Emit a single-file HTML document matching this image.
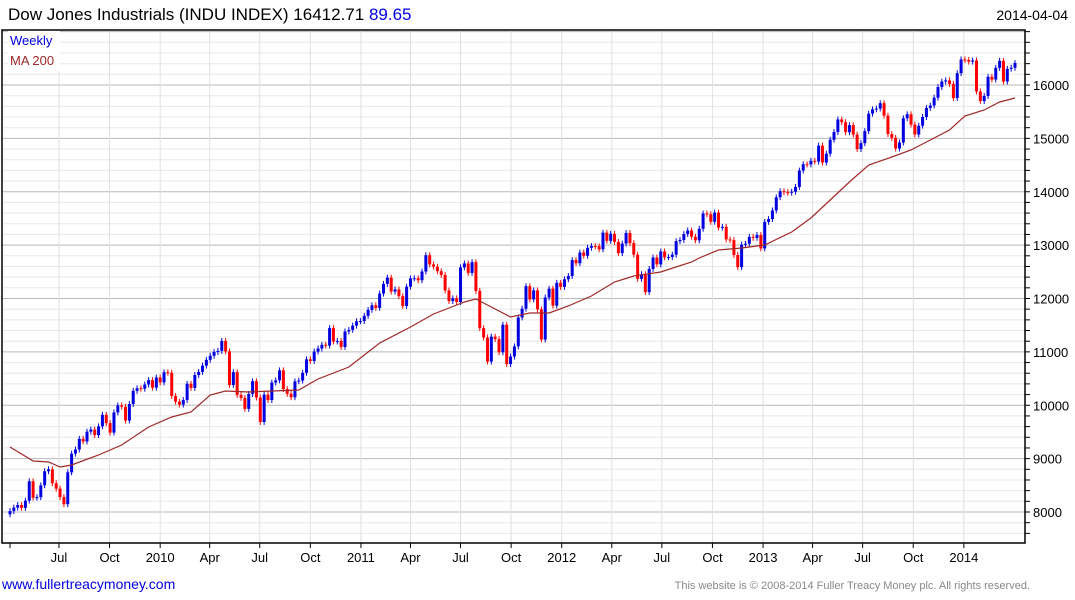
<!DOCTYPE html>
<html><head><meta charset="utf-8"><style>
body{margin:0;background:#fff;width:1075px;height:600px;overflow:hidden;font-family:"Liberation Sans",sans-serif}
svg{display:block}
</style></head><body>
<svg id="c" width="1075" height="600">
<text x="8" y="20" font-size="17" fill="#000">Dow Jones Industrials (INDU INDEX) 16412.71 <tspan fill="#0000e0">89.65</tspan></text>
<text x="1068" y="20" font-size="14" text-anchor="end" fill="#000">2014-04-04</text>
<g id="grid"></g>
<g id="marks"></g>
<polyline id="ma" fill="none" stroke="#a02828" stroke-width="1.2"/>
<rect x="8" y="31" width="52" height="40" fill="#fff"/>
<text x="10" y="45" font-size="13" fill="#0000e0">Weekly</text>
<text x="10" y="65" font-size="13" fill="#a02828">MA 200</text>
<g id="axes"></g>
<text x="2" y="589" font-size="14" fill="#0000e0">www.fullertreacymoney.com</text>
<text x="1030" y="589" font-size="11" text-anchor="end" fill="#888">This website is © 2008-2014 Fuller Treacy Money plc. All rights reserved.</text>
</svg>
<script>
const closes=[8017,8083,8131,8076,8212,8575,8268,8277,8500,8764,8799,8539,8438,8280,8146,8743,9093,9171,9370,9321,9505,9544,9441,9605,9820,9665,9487,9865,9996,9972,9713,10023,10270,10318,10310,10388,10471,10329,10520,10428,
10618,10610,10173,10067,10012,10099,10403,10325,10567,10625,10742,10851,10927,10997,11019,11205,11009,10380,10620,10193,10137,9932,10212,10450,10144,9686,10198,10098,10425,10466,10654,10303,10214,10150,10448,10462,10608,10861,10829,11006,11063,11133,11118,11445,11193,11204,11092,11382,11411,11492,11573,11578,
11675,11787,11872,11824,12092,12273,12391,12130,12170,12044,11859,12221,12377,12380,12342,12506,12811,12638,12596,12512,12441,12151,11952,12004,11934,12583,12657,12480,12681,12143,11445,11269,10818,11285,11240,10992,11509,10771,10913,11103,11644,11809,12231,11983,12153,11796,11231,12019,12184,11866,12294,12218,
12360,12422,12720,12660,12862,12801,12950,12983,12978,12922,13233,13081,13212,13060,12850,13029,13228,13038,12821,12369,12455,12119,12554,12767,12640,12880,12772,12777,12822,13075,13096,13207,13275,13157,13090,13306,13593,13579,13437,13610,13328,13343,13107,13093,12815,12588,13010,13025,13155,13135,13190,12938,
13435,13488,13650,13896,14009,13993,13982,14001,14090,14397,14515,14512,14579,14565,14865,14547,14712,14974,15118,15354,15303,15116,15248,15071,14800,14910,15136,15464,15544,15559,15659,15426,15081,15010,14810,14922,15376,15452,15258,15073,15237,15400,15570,15615,15762,15962,16065,16086,16020,15755,16221,16479,16470,
16437,16459,15879,15699,15794,16154,16103,16322,16453,16066,16303,16323,16412];
// MA 200 readings: week index and value
const maWeek=[0,6,10,13,16,23,29,36,42,47,52,56,62,68,75,80,88,96,104,110,114,118,121,125,130,135,140,145,151,157,162,169,177,179,184,190,196,203,208,213,218,223,229,234,239,244,248,253,257,261];
const maVals=[9218,8955,8937,8843,8881,9068,9255,9593,9780,9874,10192,10267,10248,10267,10286,10492,10717,11166,11466,11710,11822,11934,11991,11841,11653,11728,11728,11859,12047,12309,12422,12496,12684,12759,12909,12946,13002,13246,13508,13845,14183,14501,14651,14782,14970,15157,15419,15532,15682,15756];
const yTicks=[8000,9000,10000,11000,12000,13000,14000,15000,16000];
const xTickLabels=["Jul","Oct","2010","Apr","Jul","Oct","2011","Apr","Jul","Oct","2012","Apr","Jul","Oct","2013","Apr","Jul","Oct","2014"];
const xTickDates=["2009-07-01","2009-10-01","2010-01-01","2010-04-01","2010-07-01","2010-10-01","2011-01-01","2011-04-01","2011-07-01","2011-10-01","2012-01-01","2012-04-01","2012-07-01","2012-10-01","2013-01-01","2013-04-01","2013-07-01","2013-10-01","2014-01-01"];
const startDate=Date.UTC(2009,3,3);
const NS="http://www.w3.org/2000/svg";
const L=2,R=1025,T=30,B=543;
const step=1005/261;
function y(v){return 512-(v-8000)*0.053375;}
function xi(i){return 10+i*step;}
function xd(s){const p=s.split('-');const d=(Date.UTC(+p[0],+p[1]-1,+p[2])-startDate)/86400000;return 10+d/7*step;}
function mk(t,a,parent){const e=document.createElementNS(NS,t);for(const k in a)e.setAttribute(k,a[k]);parent.appendChild(e);return e;}
const grid=document.getElementById('grid'),axes=document.getElementById('axes'),marks=document.getElementById('marks');
for(let v=7600;v<=17000;v+=200){const yy=y(v);if(yy<T||yy>B)continue;
 const major=v%1000===0;
 const g=mk('line',{x1:L,x2:R,y1:yy.toFixed(1),y2:yy.toFixed(1),stroke:major?'#b8b8b8':'#e8e8e8','stroke-width':1},grid);
 
 const t=mk('line',{x1:R,x2:R+5,y1:yy,y2:yy,stroke:'#000'},axes);
 
}
xTickDates.forEach((d,i)=>{const xx=xd(d);
 const g=mk('line',{x1:xx,x2:xx,y1:T,y2:B,stroke:'#e0e0e0'},grid);
 
 const t=mk('line',{x1:xx,x2:xx,y1:B,y2:B+5,stroke:'#000'},axes);
 
 const lb=mk('text',{x:xx,y:562,'font-size':13,'text-anchor':'middle',fill:'#000'},axes);
 lb.textContent=xTickLabels[i];
 
});
const t0=mk('line',{x1:10,x2:10,y1:B,y2:B+5,stroke:'#000'},axes);

yTicks.forEach(v=>{const lb=mk('text',{x:1033,y:y(v)+5,'font-size':13,fill:'#000'},axes);lb.textContent=v;
 });
const fr=mk('path',{d:`M${L} ${T}H${R}V${B}H${L}Z`,fill:'none',stroke:'#000','stroke-width':1.5},axes);

closes.forEach((c,i)=>{
 const o=i===0?c-60:closes[i-1];
 const up=c>=o;const col=up?'#0000e0':'#ff0000';
 const hi=Math.max(o,c)+55,lo=Math.min(o,c)-55;
 const xx=xi(i);
 const w=mk('line',{x1:xx,x2:xx,y1:y(hi),y2:y(lo),stroke:col,'stroke-width':1},marks);
 
 const top=y(Math.max(o,c)),bot=y(Math.min(o,c));
 const b=mk('rect',{x:xx-1.5,y:top,width:3,height:Math.max(1,bot-top),fill:col},marks);
 
});
const pts=maWeek.map((w,k)=>xi(w).toFixed(1)+','+y(maVals[k]).toFixed(1));
document.getElementById('ma').setAttribute('points',pts.join(' '));
</script>
</body></html>
